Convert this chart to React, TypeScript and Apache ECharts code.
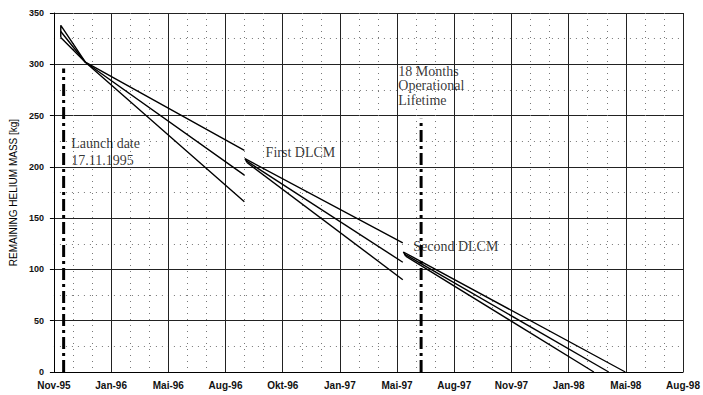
import React, { useEffect, useRef } from "react";
import * as echarts from "echarts";

// x axis: unit = one tick step (Nov-95 = 0 ... Aug-98 = 11)
const xLabels = ["Nov-95", "Jan-96", "Mai-96", "Aug-96", "Okt-96", "Jan-97", "Mai-97", "Aug-97", "Nov-97", "Jan-98", "Mai-98", "Aug-98"];
const yMin = 0;
const yMax = 350;
const yStep = 50;

// Launch and operational lifetime markers
const launchLine = [[0.17, 0], [0.17, 296]];
const lifetimeLine = [[6.42, 0], [6.42, 247]];

// Phase 1: launch -> first DLCM
const phase1A = [[0.12, 326], [0.12, 338], [0.55, 302], [3.33, 216]];
const phase1B = [[0.12, 332], [0.55, 302], [3.33, 192]];
const phase1C = [[0.12, 326], [0.55, 302], [3.33, 166]];

// Phase 2: first DLCM -> second DLCM
const phase2A = [[3.38, 204], [3.34, 208], [6.1, 126]];
const phase2B = [[3.36, 206], [6.1, 107]];
const phase2C = [[3.38, 204], [6.1, 90]];

// Phase 3: second DLCM -> depletion
const phase3A = [[6.15, 113], [6.11, 117], [9.99, 0]];
const phase3B = [[6.13, 115], [9.7, 0]];
const phase3C = [[6.15, 113], [9.44, 0]];

// Annotations: [x, y(top of text), text, lineHeight]
const notes: [number, number, string, number][] = [
  [0.31, 230, "Launch date\n17.11.1995", 16.5],
  [3.71, 221, "First DLCM", 16],
  [6.29, 130, "Second DLCM", 16],
  [6.03, 300, "18 Months\nOperational\nLifetime", 14.5],
];

const lineSeries = (data: number[][]) => ({
  type: "line",
  data,
  symbol: "none",
  silent: true,
  lineStyle: { color: "#000", width: 1.4 },
});

const markerSeries = (data: number[][]) => ({
  type: "line",
  data,
  symbol: "none",
  silent: true,
  lineStyle: { color: "#000", width: 3, type: [12, 4, 3, 4] },
});

export default function App() {
  const ref = useRef<HTMLDivElement>(null);
  useEffect(() => {
    if (!ref.current) return;
    const chart = echarts.init(ref.current, null, { renderer: "svg" });
    chart.setOption({
      animation: false,
      backgroundColor: "#fff",
      grid: { left: 50, right: 16, top: 13, bottom: 23 },
      xAxis: {
        type: "value",
        min: 0,
        max: xLabels.length - 1,
        interval: 1,
        axisLine: { show: true, lineStyle: { color: "#000", width: 1 } },
        axisTick: { show: false },
        axisLabel: {
          formatter: (v: number) => xLabels[Math.round(v)] ?? "",
          fontFamily: "Liberation Sans, Arial, sans-serif",
          fontSize: 10,
          fontWeight: "bold",
          color: "#111",
          margin: 8,
        },
        splitLine: { show: true, lineStyle: { color: "#222", width: 1 } },
        minorTick: { show: false, splitNumber: 3 },
        minorSplitLine: { show: true, lineStyle: { color: "#777", width: 1, type: [1, 5] } },
      },
      yAxis: {
        type: "value",
        min: yMin,
        max: yMax,
        interval: yStep,
        name: "REMAINING HELIUM MASS [kg]",
        nameLocation: "middle",
        nameGap: 32,
        nameRotate: 90,
        nameTextStyle: { fontFamily: "Liberation Sans, Arial, sans-serif", fontSize: 10, color: "#000" },
        axisLine: { show: true, lineStyle: { color: "#000", width: 1 } },
        axisTick: { show: true, length: 4, lineStyle: { color: "#000" } },
        axisLabel: {
          fontFamily: "Liberation Sans, Arial, sans-serif",
          fontSize: 9,
          fontWeight: "bold",
          color: "#111",
          margin: 10,
        },
        splitLine: { show: true, lineStyle: { color: "#222", width: 1 } },
        minorTick: { show: false, splitNumber: 2 },
        minorSplitLine: { show: true, lineStyle: { color: "#777", width: 1, type: [1, 5] } },
      },
      series: [
        markerSeries(launchLine),
        markerSeries(lifetimeLine),
        lineSeries(phase1A),
        lineSeries(phase1B),
        lineSeries(phase1C),
        lineSeries(phase2A),
        lineSeries(phase2B),
        lineSeries(phase2C),
        lineSeries(phase3A),
        lineSeries(phase3B),
        lineSeries(phase3C),
        {
          type: "scatter",
          silent: true,
          symbolSize: 1,
          itemStyle: { color: "rgba(0,0,0,0)" },
          data: notes.map((n) => ({
            value: [n[0], n[1]],
            label: {
              show: true,
              formatter: n[2],
              position: [0, 0],
              align: "left",
              verticalAlign: "top",
              fontFamily: "Liberation Serif, Times New Roman, serif",
              fontSize: 14,
              lineHeight: n[3],
              color: "#000",
            },
          })),
        },
      ],
    });
    return () => chart.dispose();
  }, []);
  return <div ref={ref} style={{ width: 703, height: 395, position: "absolute", left: 0, top: 0 }} />;
}
